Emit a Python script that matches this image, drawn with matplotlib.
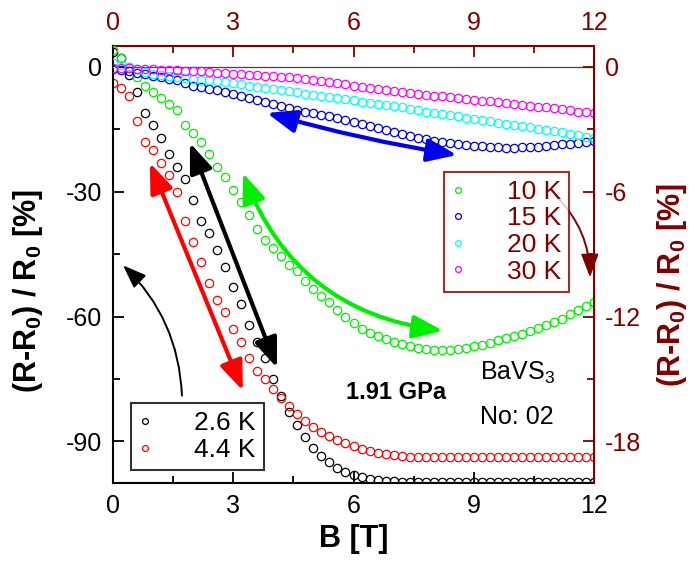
import numpy as np
import matplotlib
matplotlib.use("Agg")
import matplotlib.pyplot as plt
from matplotlib.ticker import MultipleLocator

plt.rcParams['font.family'] = ['Liberation Sans', 'DejaVu Sans']
plt.rcParams['mathtext.fontset'] = 'custom'
plt.rcParams['mathtext.rm'] = 'Liberation Sans'
plt.rcParams['mathtext.bf'] = 'Liberation Sans:bold'
plt.rcParams['axes.unicode_minus'] = False

# field values [T]
B = [0.0, 0.2, 0.4, 0.6, 0.8, 1.0, 1.2, 1.4, 1.6, 1.8, 2.0, 2.2, 2.4, 2.6, 2.8,
     3.0, 3.2, 3.4, 3.6, 3.8, 4.0, 4.2, 4.4, 4.6, 4.8, 5.0, 5.2, 5.4, 5.6, 5.8,
     6.0, 6.2, 6.4, 6.6, 6.8, 7.0, 7.2, 7.4, 7.6, 7.8, 8.0, 8.2, 8.4, 8.6, 8.8,
     9.0, 9.2, 9.4, 9.6, 9.8, 10.0, 10.2, 10.4, 10.6, 10.8, 11.0, 11.2, 11.4,
     11.6, 11.8, 12.0]

# left axis, (R-R0)/R0 [%]
mr_2p6K = [3.5, 2, -2, -6, -11, -14, -17, -21, -24, -27, -32, -37, -40, -44, -48,
           -53, -57, -62, -66, -70, -75, -79, -83, -86, -89, -91.5, -93.5, -95,
           -96.3, -97.3, -98, -98.6, -99, -99.3, -99.5, -99.6] + [-99.7] * 25
mr_4p4K = [-4, -5, -7, -13, -18, -20, -23, -26, -30, -37, -42, -47, -52, -56, -59,
           -63, -66, -70, -73, -75, -77.5, -79.5, -81.5, -83.5, -85, -86.5, -87.7,
           -88.7, -89.6, -90.5, -91.2, -91.8, -92.3, -92.7, -93, -93.3, -93.5] + [-93.7] * 24

# right axis, (R-R0)/R0 [%]
mr_10K = [0.8, 0.4, 0.0, -0.5, -0.9, -1.2, -1.5, -1.8, -2.1, -2.8, -3.2, -3.6, -4.2,
          -4.8, -5.3, -5.9, -6.5, -7.1, -7.8, -8.3, -8.7, -9.1, -9.5, -9.8, -10.3,
          -10.7, -11.0, -11.3, -11.7, -12.0, -12.3, -12.6, -12.8, -12.95, -13.1,
          -13.2, -13.3, -13.4, -13.5, -13.55, -13.6, -13.6, -13.6, -13.55, -13.5,
          -13.4, -13.35, -13.25, -13.15, -13.05, -12.95, -12.85, -12.7, -12.55,
          -12.4, -12.25, -12.1, -11.9, -11.7, -11.5, -11.3]
mr_15K = [-0.1, -0.15, -0.2, -0.28, -0.35, -0.42, -0.5, -0.57, -0.65, -0.78, -0.9,
          -0.97, -1.05, -1.12, -1.2, -1.3, -1.4, -1.5, -1.6, -1.7, -1.8, -1.9, -2.0,
          -2.08, -2.15, -2.22, -2.3, -2.38, -2.45, -2.55, -2.65, -2.75, -2.85, -2.95,
          -3.05, -3.15, -3.25, -3.33, -3.4, -3.48, -3.55, -3.6, -3.65, -3.7, -3.75,
          -3.79, -3.82, -3.85, -3.87, -3.88, -3.88, -3.87, -3.85, -3.83, -3.8, -3.76,
          -3.72, -3.69, -3.65, -3.6, -3.55]
mr_20K = [0.2, 0.1, 0.0, -0.12, -0.25, -0.33, -0.4, -0.45, -0.5, -0.55, -0.6, -0.62,
          -0.65, -0.7, -0.75, -0.8, -0.85, -0.9, -0.95, -1.0, -1.05, -1.1, -1.15,
          -1.22, -1.3, -1.35, -1.4, -1.45, -1.5, -1.55, -1.6, -1.68, -1.75, -1.8,
          -1.85, -1.9, -1.95, -2.02, -2.1, -2.15, -2.2, -2.25, -2.3, -2.38, -2.45,
          -2.5, -2.55, -2.62, -2.7, -2.75, -2.8, -2.85, -2.9, -2.98, -3.05, -3.1,
          -3.15, -3.22, -3.3, -3.35, -3.4]
mr_30K = [-0.05, -0.06, -0.08, -0.09, -0.1, -0.12, -0.13, -0.15, -0.16, -0.18, -0.2,
          -0.22, -0.25, -0.28, -0.3, -0.33, -0.35, -0.38, -0.4, -0.43, -0.45, -0.48,
          -0.5, -0.55, -0.6, -0.65, -0.7, -0.75, -0.8, -0.85, -0.9, -0.95, -1.0,
          -1.05, -1.1, -1.15, -1.2, -1.25, -1.3, -1.34, -1.38, -1.42, -1.45, -1.5,
          -1.55, -1.58, -1.62, -1.66, -1.7, -1.74, -1.78, -1.82, -1.87, -1.91, -1.95,
          -2.0, -2.05, -2.1, -2.15, -2.19, -2.22]

dred = '#800000'
mk = dict(ls='none', marker='o', ms=6, mfc='none', mew=0.9)

fig = plt.figure(figsize=(6.95, 5.67), dpi=100)
ax = fig.add_axes([0.1626, 0.1481, 0.6921, 0.7708])
ax2 = ax.twinx()

ax.axhline(0, color='#444444', lw=0.9, zorder=0)
l1, = ax.plot(B, mr_2p6K, color='black', label='2.6 K', **mk)
l2, = ax.plot(B, mr_4p4K, color='red', label='4.4 K', **mk)
r1, = ax2.plot(B, mr_10K, color='#00ee00', label='10 K', **mk)
r2, = ax2.plot(B, mr_15K, color='#0000dd', label='15 K', **mk)
r3, = ax2.plot(B, mr_20K, color='cyan', label='20 K', **mk)
r4, = ax2.plot(B, mr_30K, color='magenta', label='30 K', **mk)

ax.set_xlim(0, 12)
ax.set_ylim(-100, 5)
ax2.set_ylim(-20, 1)

ax.set_xticks([0, 3, 6, 9, 12])
ax.xaxis.set_minor_locator(MultipleLocator(1.5))
ax.set_yticks([0, -30, -60, -90])
ax.yaxis.set_minor_locator(MultipleLocator(15))
ax2.set_yticks([0, -6, -12, -18])
ax2.yaxis.set_minor_locator(MultipleLocator(3))

for a in (ax, ax2):
    a.spines['top'].set_visible(False)
ax.spines['right'].set_visible(False)
ax2.spines['left'].set_visible(False)
ax2.spines['bottom'].set_visible(False)
ax2.spines['right'].set_color(dred)
ax2.spines['right'].set_linewidth(1.5)
ax.spines['left'].set_linewidth(1.5)
ax.spines['bottom'].set_linewidth(1.5)

ax.tick_params(which='both', direction='in', labelsize=18, width=1.3, pad=8)
ax.tick_params(which='major', length=8)
ax.tick_params(which='minor', length=5)
ax2.tick_params(which='both', direction='in', labelsize=18, width=1.3, pad=8,
                colors=dred)
ax2.tick_params(which='major', length=8)
ax2.tick_params(which='minor', length=5)

sec = ax.secondary_xaxis('top')
sec.set_xticks([0, 3, 6, 9, 12])
sec.xaxis.set_minor_locator(MultipleLocator(1.5))
sec.spines['top'].set_color(dred)
sec.spines['top'].set_linewidth(1.5)
sec.tick_params(which='both', direction='in', labelsize=18, width=1.3, pad=8,
                colors=dred)
sec.tick_params(which='major', length=8)
sec.tick_params(which='minor', length=5)

ax.set_xlabel('B [T]', fontsize=22, fontweight='bold', labelpad=4)
ax.set_ylabel(r'(R-R$_\mathbf{0}$) / R$_\mathbf{0}$ [%]', fontsize=22,
              fontweight='bold')
ax.yaxis.set_label_coords(-0.141, 0.44)
ax2.set_ylabel(r'(R-R$_\mathbf{0}$) / R$_\mathbf{0}$ [%]', fontsize=22,
               fontweight='bold', color=dred, rotation=90)
ax2.yaxis.set_label_coords(1.127, 0.454)

# double arrows
def darrow(p0, p1, color, rad=0.0):
    ax2.annotate('', xy=p1, xytext=p0, xycoords=ax.transData, textcoords=ax.transData,
                 arrowprops=dict(arrowstyle='<|-|>,head_length=0.9,head_width=0.35',
                                 color=color, lw=3.0, mutation_scale=20,
                                 shrinkA=0, shrinkB=0,
                                 connectionstyle='arc3,rad=%s' % rad))

darrow((3.84, -11.1), (8.58, -21.2), '#0000ee', 0.03)
darrow((3.24, -25.5), (8.23, -63.4), '#00ee00', 0.3)
darrow((1.92, -18.3), (4.09, -72.3), 'black')
darrow((0.92, -23.1), (3.24, -77.8), 'red')

ax2.annotate('', xy=(0.25, -47.7), xytext=(1.72, -79.0), xycoords=ax.transData,
             textcoords=ax.transData,
             arrowprops=dict(arrowstyle='-|>,head_length=0.8,head_width=0.3',
                             color='black', lw=1.4, mutation_scale=18, shrinkA=0,
                             shrinkB=0, connectionstyle='arc3,rad=0.2'))
ax2.annotate('', xy=(11.9, -50.6), xytext=(11.08, -31.3), xycoords=ax.transData,
             textcoords=ax.transData,
             arrowprops=dict(arrowstyle='-|>,head_length=0.8,head_width=0.3',
                             color=dred, lw=1.4, mutation_scale=18, shrinkA=0,
                             shrinkB=0, connectionstyle='arc3,rad=-0.2'))

ax2.text(5.82, -79.8, '1.91 GPa', fontsize=17, fontweight='bold', transform=ax.transData)
ax2.text(9.15, -75.2, r'BaVS$_3$', fontsize=18, transform=ax.transData)
ax2.text(9.15, -85.8, 'No: 02', fontsize=18, transform=ax.transData)

leg1 = ax2.legend(handles=[l1, l2], loc='lower left', bbox_to_anchor=(0.037, 0.03),
                  fontsize=19, frameon=True, fancybox=False, edgecolor='black',
                  handlelength=0.5, handletextpad=1.6, borderpad=0.3,
                  labelspacing=0.1, markerscale=0.7, borderaxespad=0)
leg1.get_frame().set_linewidth(1.5)
ax2.add_artist(leg1)
leg2 = ax2.legend(handles=[r1, r2, r3, r4], loc='upper left',
                  bbox_to_anchor=(0.688, 0.712), fontsize=19, frameon=True,
                  fancybox=False, edgecolor=dred, handlelength=0.5,
                  handletextpad=1.6, borderpad=0.3, labelspacing=0.1,
                  markerscale=0.7, borderaxespad=0)
leg2.get_frame().set_linewidth(1.5)
for t in leg2.get_texts():
    t.set_color(dred)

fig.savefig('out.png', dpi=100)
